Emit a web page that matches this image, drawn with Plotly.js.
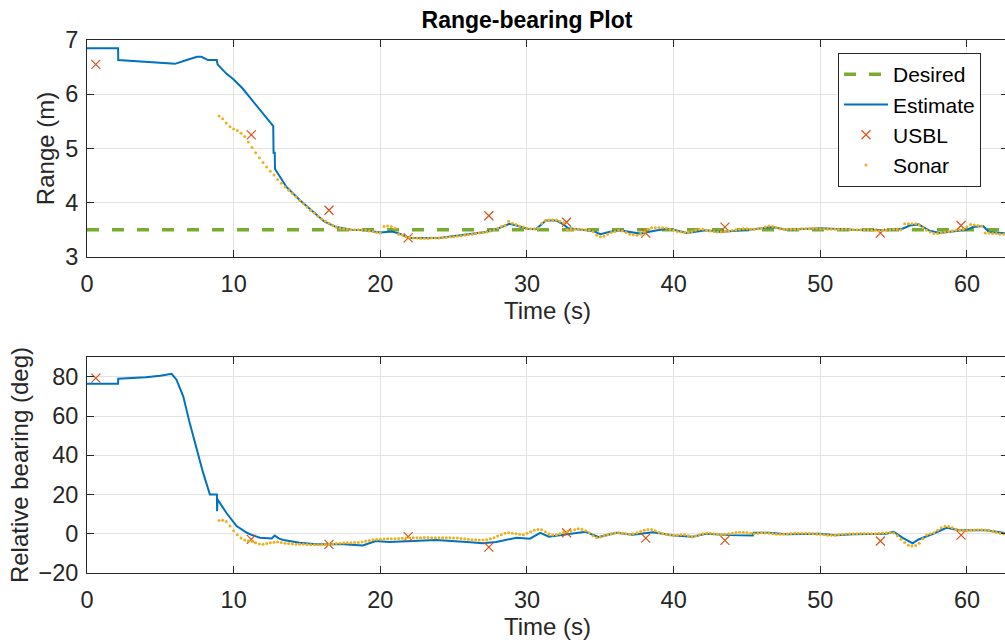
<!DOCTYPE html>
<html>
<head>
<meta charset="utf-8">
<script src="https://cdn.plot.ly/plotly-3.0.1.min.js"></script>
<style>
html,body{margin:0;padding:0;overflow:hidden;background:#fff;}
#chart{width:1008px;height:643px;}
</style>
</head>
<body>
<div id="chart"></div>
<script>
// ---------- DATA ----------
const desiredT = [0, 62.8];
const desiredRange = [3.5, 3.5];

const estT_range = [0,2.12,2.13,4.0,6.0,6.8,7.5,7.8,8.25,8.85,8.9,9.5,10.0,10.6,11.3,12.0,12.7,12.72,12.8,12.82,13.6,14.5,15.4,16.2,17.0,18.0,19.0,20.0,20.4,20.8,21.3,22.0,24.0,25.9,27.2,28.0,28.8,29.3,30.0,30.6,31.0,31.3,32.0,32.5,32.8,33.4,34.5,35.0,35.6,36.3,37.0,37.7,38.6,39.5,40.0,40.9,42.2,43.2,44.0,45.5,46.7,47.7,50.0,52.2,54.5,55.6,56.1,56.7,57.4,58.1,59.0,60.0,60.4,61.1,61.5,62.8];
const estRange = [6.85,6.85,6.63,6.60,6.56,6.63,6.69,6.69,6.63,6.63,6.55,6.38,6.27,6.11,5.88,5.65,5.41,4.92,4.92,4.62,4.29,4.05,3.83,3.65,3.55,3.50,3.49,3.45,3.46,3.47,3.43,3.35,3.35,3.41,3.46,3.52,3.61,3.58,3.52,3.51,3.60,3.67,3.67,3.60,3.53,3.51,3.48,3.42,3.46,3.49,3.46,3.43,3.48,3.52,3.50,3.44,3.49,3.46,3.48,3.51,3.55,3.50,3.53,3.50,3.49,3.52,3.58,3.60,3.49,3.44,3.47,3.50,3.55,3.57,3.46,3.43];

const estT_bearing = [0,2.12,2.13,4.0,5.0,5.77,6.1,6.56,7.0,7.47,7.92,8.38,8.86,8.87,8.9,9.5,10.2,10.9,11.3,11.8,12.6,12.8,13.1,13.4,14.5,15.6,17.5,18.8,19.3,19.7,20.6,22.5,23.8,25.9,27.0,27.9,29.3,30.2,30.9,31.5,32.7,34.0,34.9,36.1,37.2,38.6,40.0,41.3,42.2,43.8,45.4,45.45,46.5,47.7,49.9,51.1,52.2,54.5,55.0,55.6,56.3,56.7,57.7,58.6,59.5,61.3,62.8];
const estBearing = [76.5,76.5,79,79.7,80.5,81.5,78.5,70,56.5,43,31,20,20,11.5,17.5,10.7,3.9,0.5,-0.8,-2,-2.4,-0.9,-2.5,-3.2,-4.6,-5.4,-5.4,-6,-4.6,-3.7,-4.2,-3.7,-3.2,-4.2,-4.9,-4.2,-2,-2.5,0.5,-1.5,-0.4,1,-1.7,0.5,-0.5,0.8,-0.9,-1.5,0,-0.7,-0.9,0.5,0.5,-0.3,0,-0.7,-0.2,0,1,-2,-4.9,-2.9,0,3,1.8,1.8,0.1];

const usblT = [0.6,11.2,16.5,21.9,27.4,32.7,38.1,43.5,54.1,59.6];
const usblRange = [6.55,5.25,3.86,3.35,3.76,3.64,3.44,3.55,3.44,3.58];
const usblBearing = [79.3,-2.9,-5.4,-1.5,-6.8,0.5,-2.2,-3.4,-3.7,-0.7];

// sonar samples: first timestamp and sample period (s)
const sonarStart = 9.0;
const sonarStep = 0.25;
const sonarRange = [5.60,5.55,5.47,5.40,5.36,5.33,5.28,5.22,5.12,5.02,4.92,4.83,4.74,4.66,4.58,4.51,4.43,4.36,4.29,4.23,
4.17,4.11,4.04,3.98,3.92,3.86,3.81,3.75,3.70,3.66,3.62,3.58,3.55,3.53,3.52,3.51,3.50,3.50,3.50,3.50,
3.49,3.48,3.47,3.45,3.44,3.56,3.57,3.56,3.53,3.42,3.40,3.37,3.36,3.35,3.35,3.34,3.34,3.34,3.35,3.35,
3.35,3.36,3.36,3.37,3.37,3.38,3.39,3.40,3.41,3.42,3.43,3.44,3.45,3.46,3.48,3.50,3.53,3.56,3.58,3.66,
3.62,3.60,3.57,3.55,3.53,3.52,3.52,3.53,3.62,3.67,3.68,3.68,3.68,3.66,3.63,3.50,3.51,3.51,3.51,3.50,
3.50,3.49,3.47,3.40,3.37,3.38,3.42,3.45,3.47,3.49,3.48,3.45,3.42,3.41,3.40,3.42,3.46,3.51,3.54,3.54,
3.54,3.54,3.53,3.51,3.49,3.47,3.46,3.45,3.45,3.47,3.49,3.51,3.51,3.49,3.48,3.47,3.46,3.46,3.47,3.48,
3.49,3.50,3.51,3.52,3.52,3.51,3.51,3.52,3.53,3.55,3.57,3.56,3.54,3.52,3.51,3.51,3.51,3.51,3.51,3.52,
3.52,3.52,3.53,3.53,3.52,3.52,3.51,3.51,3.51,3.51,3.51,3.51,3.50,3.50,3.50,3.50,3.50,3.50,3.49,3.49,
3.48,3.49,3.49,3.50,3.51,3.51,3.50,3.61,3.61,3.61,3.61,3.59,3.54,3.49,3.46,3.43,3.43,3.44,3.46,3.47,
3.48,3.49,3.50,3.51,3.55,3.60,3.59,3.58,3.57,3.44,3.44,3.43,3.43,3.42,3.42];
const sonarBearing = [6.8,6.9,6.2,3.9,1.5,-0.5,-2.2,-3.2,-3.6,-4.0,-4.6,-5.2,-5.4,-5.0,-4.6,-4.3,-4.2,-4.4,-4.8,-5.0,
-5.2,-5.3,-5.4,-5.4,-5.5,-5.6,-5.6,-5.6,-5.6,-5.5,-5.4,-5.2,-5.0,-4.8,-4.7,-4.6,-4.6,-4.5,-4.4,-4.2,
-3.8,-3.4,-3.0,-2.9,-2.8,-2.7,-2.6,-2.5,-2.5,-2.4,-2.3,-2.2,-2.0,-2.0,-2.0,-2.0,-1.9,-1.9,-2.0,-2.0,
-2.0,-2.0,-2.0,-2.0,-2.1,-2.2,-2.4,-2.6,-2.8,-3.0,-3.1,-3.2,-3.2,-3.0,-2.6,-2.0,-1.2,-0.5,0.2,0.5,
0.3,0.0,-0.3,-0.5,0.2,1.0,1.8,2.2,2.0,1.0,0.0,-0.6,-0.5,0.0,0.6,1.0,1.4,2.0,2.5,2.3,
1.5,0.5,-1.0,-2.0,-1.6,-1.0,-0.5,0.0,0.4,0.5,0.3,0.0,-0.2,0.0,0.5,1.2,1.8,2.2,2.2,1.5,
0.6,0.0,-0.3,-0.6,-0.9,-0.8,-0.5,-0.5,-1.0,-1.6,-1.2,-0.5,0.0,0.2,0.2,0.0,-0.2,-0.3,-0.3,0.0,
0.3,0.6,0.8,0.8,0.6,0.2,0.0,0.3,0.5,0.4,0.2,0.0,-0.2,-0.3,-0.2,0.0,0.1,0.2,0.3,0.3,
0.2,0.1,0.0,-0.2,-0.3,-0.5,-0.7,-0.8,-0.7,-0.4,-0.2,-0.1,0.0,0.0,0.0,0.1,0.1,0.1,0.0,0.0,
0.2,0.4,0.5,0.6,0.4,-1.0,-2.8,-4.5,-5.8,-6.3,-6.0,-4.8,-2.5,-0.6,0.0,0.5,1.8,3.0,3.8,3.7,
3.0,2.3,1.8,1.7,1.7,1.8,1.9,2.0,2.0,1.9,1.7,1.2,0.6,0.2,0.0];

const xTicks = [0,10,20,30,40,50,60];
const rangeTicks = [3,4,5,6,7];
const bearingTicks = [-20,0,20,40,60,80];

// ---------- BUILD ----------
const sonarT = sonarRange.map((_, i) => sonarStart + i * sonarStep);
const sonarTb = sonarBearing.map((_, i) => sonarStart + i * sonarStep);

const cBlue = '#0072BD', cRed = '#D95319', cYel = '#EDB120', cGreen = '#77AC30';

const traces = [
  {x: desiredT, y: desiredRange, mode: 'lines', name: 'Desired',
   line: {color: cGreen, width: 3.5, dash: '12px,13px'}, xaxis: 'x', yaxis: 'y'},
  {x: estT_range, y: estRange, mode: 'lines', name: 'Estimate',
   line: {color: cBlue, width: 2}, xaxis: 'x', yaxis: 'y'},
  {x: usblT, y: usblRange, mode: 'markers', name: 'USBL',
   marker: {symbol: 'x-thin', size: 9, color: cRed, line: {color: cRed, width: 1.2}}, xaxis: 'x', yaxis: 'y'},
  {x: sonarT, y: sonarRange, mode: 'markers', name: 'Sonar',
   marker: {symbol: 'circle', size: 3, color: cYel}, xaxis: 'x', yaxis: 'y'},

  {x: estT_bearing, y: estBearing, mode: 'lines', showlegend: false,
   line: {color: cBlue, width: 2}, xaxis: 'x2', yaxis: 'y2'},
  {x: usblT, y: usblBearing, mode: 'markers', showlegend: false,
   marker: {symbol: 'x-thin', size: 9, color: cRed, line: {color: cRed, width: 1.2}}, xaxis: 'x2', yaxis: 'y2'},
  {x: sonarTb, y: sonarBearing, mode: 'markers', showlegend: false,
   marker: {symbol: 'circle', size: 3, color: cYel}, xaxis: 'x2', yaxis: 'y2'}
];

const txt = '#262626';
const font = {family: '"Liberation Sans", Arial, Helvetica, sans-serif', color: txt};
function xax(anchor) {
  return {anchor: anchor, range: [0, 62.8], tickvals: xTicks, ticks: 'inside', ticklen: 7,
    tickcolor: txt, showline: true, linecolor: txt, linewidth: 1, mirror: 'ticks',
    showgrid: true, gridcolor: '#e3e3e3', zeroline: false,
    tickfont: {size: 23.5, color: txt}, ticklabelstandoff: 6,
    title: {text: 'Time (s)', font: {size: 24, color: txt}, standoff: 4}};
}
function yax(anchor, dom, rng, tv, title) {
  return {anchor: anchor, domain: dom, range: rng, tickvals: tv, ticks: 'inside', ticklen: 7,
    tickcolor: txt, showline: true, linecolor: txt, linewidth: 1, mirror: 'ticks',
    showgrid: true, gridcolor: '#e3e3e3', zeroline: false,
    tickfont: {size: 23.5, color: txt}, ticklabelstandoff: 3,
    title: {text: title, font: {size: 24, color: txt}, standoff: 3}};
}

const layout = {
  width: 1008, height: 643,
  margin: {l: 87, r: 0, t: 40, b: 70},
  paper_bgcolor: '#fff', plot_bgcolor: '#fff',
  font: font,
  title: {text: '<b>Range-bearing Plot</b>', font: {size: 23, color: '#000'}, x: 0.4777, xref: 'paper', xanchor: 'center', y: 0.969, yanchor: 'middle'},
  xaxis: xax('y'),
  yaxis: yax('x', [0.593, 1], [3, 7], rangeTicks, 'Range (m)'),
  xaxis2: xax('y2'),
  yaxis2: yax('x2', [0, 0.405], [-20, 90], bearingTicks, 'Relative bearing (deg)'),
  showlegend: true,
  legend: {x: 0.8154, y: 0.9756, xanchor: 'left', yanchor: 'top',
    bgcolor: '#fff', bordercolor: txt, borderwidth: 1, itemwidth: 44,
    font: {size: 21, color: '#000'}, tracegroupgap: 0}
};

Plotly.newPlot('chart', traces, layout, {displayModeBar: false, staticPlot: true});
</script>
</body>
</html>
